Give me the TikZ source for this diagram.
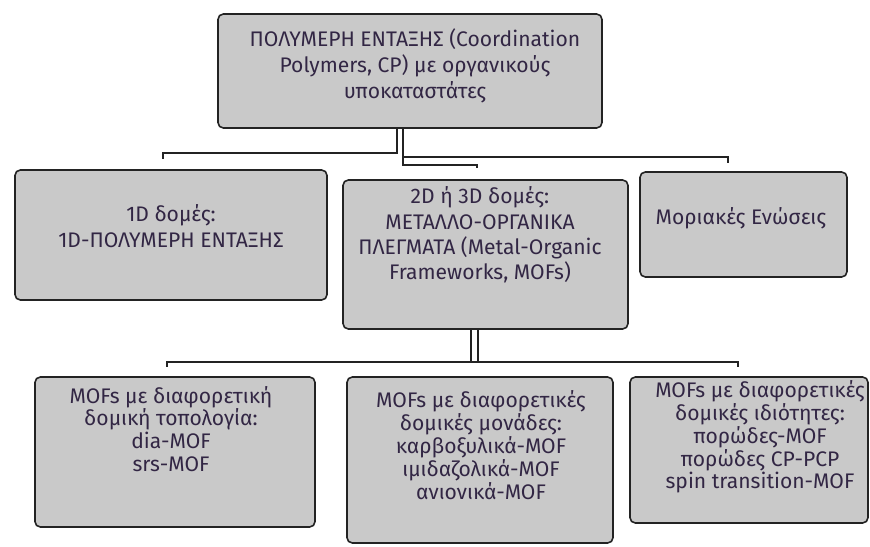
\documentclass[tikz,border=0pt]{standalone}
\usepackage{fontspec}
\setmainfont{Fira Sans}
\usetikzlibrary{positioning}
\definecolor{boxgray}{RGB}{201,201,201}
\definecolor{txtcol}{RGB}{50,38,68}
\definecolor{edgecol}{RGB}{35,35,35}
\tikzset{
  box/.style={draw=edgecol, fill=boxgray, line width=0.9pt, rounded corners=3pt, inner sep=0pt},
  txt/.style={align=center, text=txtcol, inner sep=0pt, font=\fontsize{12}{13}\selectfont},
  bigtxt/.style={txt, font=\fontsize{12}{15}\selectfont},
  conn/.style={draw=edgecol, line width=0.9pt},
}

\begin{document}
\begin{tikzpicture}[x=0.02cm, y=-0.02cm]
\useasboundingbox (0,0) rectangle (870,547);

%最上面的方框
\node[box, minimum width=7.68cm, minimum height=2.28cm] (top) at (410,71) {};
\node[bigtxt] (toptext) at (415,66) {ΠΟΛΥΜΕΡΗ ΕΝΤΑΞΗΣ (Coordination\\Polymers, CP) με οργανικούς\\υποκαταστάτες};

%中间一排的三个方框
\node[box, minimum width=6.24cm, minimum height=2.6cm] (one) at (171,235) {};
\node[bigtxt] (onetext) at (171,226) {1D δομές:\\1D-ΠΟΛΥΜΕΡΗ ΕΝΤΑΞΗΣ};
\node[box, minimum width=5.7cm, minimum height=2.98cm] (mof) at (485.5,254.5) {};
\node[bigtxt, font=\fontsize{12}{14.4}\selectfont] (moftext) at (480,235) {2D ή 3D δομές:\\ΜΕΤΑΛΛΟ-ΟΡΓΑΝΙΚΑ\\ΠΛΕΓΜΑΤΑ (Metal-Organic\\Frameworks, MOFs)};
\node[box, minimum width=4.14cm, minimum height=2.1cm] (mol) at (743.5,224.5) {};
\node[bigtxt] (moltext) at (741,218) {Μοριακές Ενώσεις};

%最下面一排的三个方框
\node[box, minimum width=5.6cm, minimum height=3cm] (topo) at (175,452) {};
\node[txt] (topotext) at (171,429) {MOFs με διαφορετική\\δομική τοπολογία:\\dia-MOF\\srs-MOF};
\node[box, minimum width=5.32cm, minimum height=3.32cm] (unit) at (480,460) {};
\node[txt] (unittext) at (481,445) {MOFs με διαφορετικές\\δομικές μονάδες:\\καρβοξυλικά-MOF\\ιμιδαζολικά-MOF\\ανιονικά-MOF};
\node[box, minimum width=4.76cm, minimum height=2.92cm] (prop) at (749,450) {};
\node[txt] (proptext) at (760,437) {MOFs με διαφορετικές\\δομικές ιδιότητες:\\πορώδες-MOF\\πορώδες CP-PCP\\spin transition-MOF};

%上面的连线
\coordinate (upA) at (397,153);
\coordinate (upB) at (403,157);
\coordinate (upC) at (403,165);
\coordinate (upL) at (163,153);
\coordinate (upR) at (728,157);
\coordinate (upM) at (477,165);
\draw[conn] (top.south -| upA) -- (upA) -- (upL) -- ++(0,6);
\draw[conn] (top.south -| upB) -- (upC) -- (upM) -- ++(0,3);
\draw[conn] (upB) -- (upR) -- ++(0,6);

%下面的连线
\coordinate (lowA) at (471,362);
\coordinate (lowB) at (478,362);
\coordinate (lowL) at (167,362);
\coordinate (lowR) at (738,362);
\draw[conn] (mof.south -| lowA) -- (lowA);
\draw[conn] (mof.south -| lowB) -- (lowB);
\draw[conn] (lowL) ++(0,5) -- (lowL) -- (lowR) -- ++(0,5);

\end{tikzpicture}
\end{document}
